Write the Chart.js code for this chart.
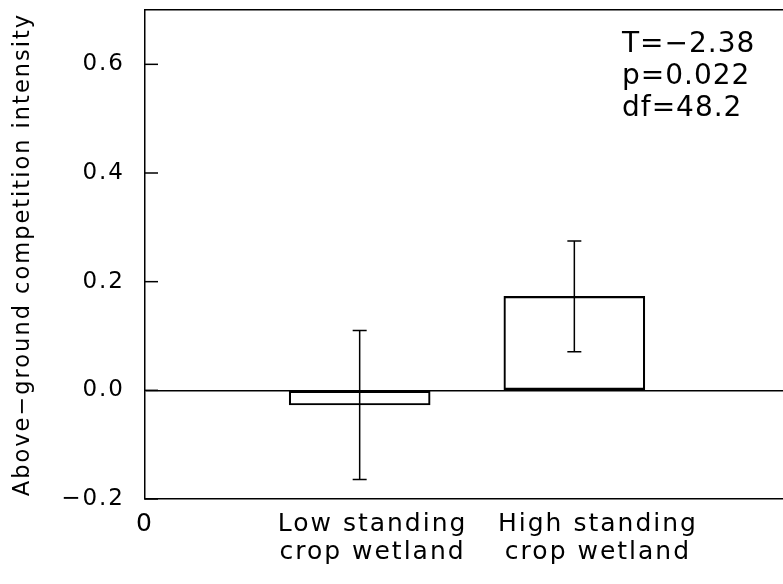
<!DOCTYPE html>
<html>
<head>
<meta charset="utf-8">
<script src="https://cdn.jsdelivr.net/npm/chart.js@4.4.1/dist/chart.umd.min.js"></script>
<style>
  html, body { margin: 0; padding: 0; background: #fff; }
  #wrap { width: 783px; height: 584px; }
</style>
</head>
<body>
<div id="wrap"><canvas id="compChart" width="783" height="584"></canvas></div>
<script>
// data
const categories = [['Low standing', 'crop wetland'], ['High standing', 'crop wetland']];
const barPos = [1, 2];
const labelPos = [1.06, 2.11];
const means = [-0.027, 0.173];
const stdErr = [0.137, 0.102];
const yTicks = [-0.2, 0.0, 0.2, 0.4, 0.6];
const statsText = ['T=\u22122.38', 'p=0.022', 'df=48.2'];

const FONT = "'DejaVu Sans', sans-serif";
const INK = '#000';

// wide letter spacing like the old plotting font
const spacing = {
    id: 'spacing',
    beforeDraw(chart) { chart.ctx.letterSpacing = '2px'; }
};

// tick marks point into the plot
const innerTicks = {
    id: 'innerTicks',
    afterDraw(chart) {
        const { ctx, chartArea, scales: { y } } = chart;
        ctx.save();
        ctx.strokeStyle = INK;
        ctx.lineWidth = 1.5;
        yTicks.forEach(v => {
            const py = y.getPixelForValue(v);
            ctx.beginPath();
            ctx.moveTo(chartArea.left, py);
            ctx.lineTo(chartArea.left + 13, py);
            ctx.stroke();
        });
        ctx.restore();
    }
};

const errorBars = {
    id: 'errorBars',
    afterDatasetsDraw(chart) {
        const { ctx, scales: { x, y } } = chart;
        ctx.save();
        ctx.strokeStyle = INK;
        ctx.lineWidth = 1.5;
        means.forEach((m, i) => {
            const px = x.getPixelForValue(barPos[i]);
            const hi = y.getPixelForValue(m + stdErr[i]);
            const lo = y.getPixelForValue(m - stdErr[i]);
            ctx.beginPath();
            ctx.moveTo(px, hi); ctx.lineTo(px, lo);
            ctx.moveTo(px - 7, hi); ctx.lineTo(px + 7, hi);
            ctx.moveTo(px - 7, lo); ctx.lineTo(px + 7, lo);
            ctx.stroke();
        });
        ctx.restore();
    }
};

const stats = {
    id: 'stats',
    afterDraw(chart) {
        const { ctx } = chart;
        ctx.save();
        ctx.font = `28px ${FONT}`;
        ctx.letterSpacing = '1px';
        ctx.fillStyle = INK;
        ctx.textAlign = 'left';
        ctx.textBaseline = 'alphabetic';
        statsText.forEach((t, i) => ctx.fillText(t, 622, 52 + i * 32));
        ctx.restore();
    }
};

new Chart(document.getElementById('compChart'), {
    type: 'bar',
    data: {
        datasets: [{
            data: barPos.map((p, i) => ({ x: p, y: means[i] })),
            backgroundColor: 'rgba(0,0,0,0)',
            borderColor: INK,
            borderWidth: 1.5,
            borderSkipped: false,
            barThickness: 141
        }]
    },
    options: {
        responsive: false,
        animation: false,
        layout: { padding: 0 },
        plugins: {
            legend: { display: false },
            tooltip: { enabled: false }
        },
        scales: {
            x: {
                type: 'linear',
                position: 'bottom',
                offset: false,
                min: 0,
                max: 2.972,
                afterBuildTicks: s => { s.ticks = [0, ...labelPos].map(v => ({ value: v })); },
                afterFit: s => { s.height = 85; s.paddingLeft = 0; s.paddingRight = 0; },
                grid: { display: false, drawTicks: false, offset: false },
                border: { display: true, color: INK, width: 1.5 },
                ticks: {
                    autoSkip: false,
                    maxRotation: 0,
                    padding: 12,
                    color: INK,
                    font: { family: FONT, size: 25, lineHeight: 1.1 },
                    callback: (v, i) => i === 0 ? '0' : categories[i - 1]
                }
            },
            top: {
                type: 'linear',
                position: 'top',
                display: true,
                offset: false,
                afterFit: s => { s.height = 10; s.paddingLeft = 0; s.paddingRight = 0; },
                grid: { display: false, drawTicks: false },
                ticks: { display: false },
                border: { display: true, color: INK, width: 1.5 }
            },
            y: {
                min: -0.2,
                max: 0.7,
                afterBuildTicks: s => { s.ticks = yTicks.map(v => ({ value: v })); },
                afterFit: s => { s.width = 145; s.paddingTop = 0; s.paddingBottom = 0; },
                grid: {
                    drawTicks: false,
                    lineWidth: 1.5,
                    color: c => (c.tick && c.tick.value === 0) ? INK : 'rgba(0,0,0,0)'
                },
                border: { display: true, color: INK, width: 1.5 },
                ticks: {
                    padding: 20,
                    color: INK,
                    font: { family: FONT, size: 23 },
                    callback: v => v.toFixed(1).replace('-', '\u2212')
                },
                title: {
                    display: true,
                    text: 'Above\u2212ground competition intensity',
                    color: INK,
                    padding: { top: 10, bottom: 0 },
                    font: { family: FONT, size: 22.5 }
                }
            }
        }
    },
    plugins: [spacing, innerTicks, errorBars, stats]
});
</script>
</body>
</html>
